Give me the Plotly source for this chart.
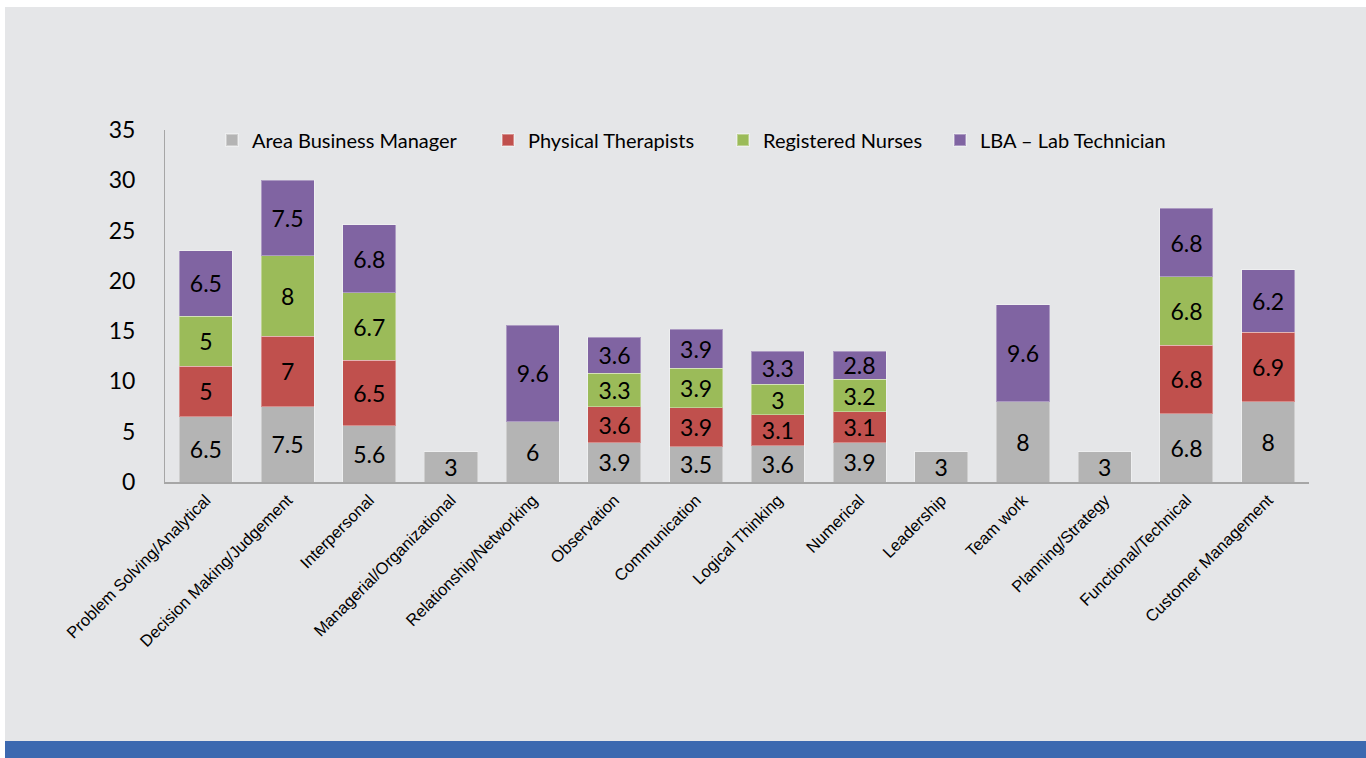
import plotly.graph_objects as go

categories = ["Problem Solving/Analytical", "Decision Making/Judgement", "Interpersonal",
              "Managerial/Organizational", "Relationship/Networking", "Observation",
              "Communication", "Logical Thinking", "Numerical", "Leadership", "Team work",
              "Planning/Strategy", "Functional/Technical", "Customer Management"]

area_business_manager = [6.5, 7.5, 5.6, 3, 6, 3.9, 3.5, 3.6, 3.9, 3, 8, 3, 6.8, 8]
physical_therapists = [5, 7, 6.5, None, None, 3.6, 3.9, 3.1, 3.1, None, None, None, 6.8, 6.9]
registered_nurses = [5, 8, 6.7, None, None, 3.3, 3.9, 3, 3.2, None, None, None, 6.8, None]
lba_lab_technician = [6.5, 7.5, 6.8, None, 9.6, 3.6, 3.9, 3.3, 2.8, None, 9.6, None, 6.8, 6.2]

series_names = ["Area Business Manager", "Physical Therapists", "Registered Nurses",
                "LBA \u2013 Lab Technician"]
series_values = [area_business_manager, physical_therapists, registered_nurses, lba_lab_technician]
series_colors = ["#B4B4B4", "#C0504D", "#9BBB59", "#8064A2"]

# pixel -> paper helpers (plot area: x 165..1309, y 130..482)
L, R, T, B = 165, 1309, 130, 482
def px(x):
    return (x - L) / (R - L)
def py(y):
    return (B - y) / (B - T)

legend_text_x = [252, 528, 763, 980]
legend_keys = ["legend", "legend2", "legend3", "legend4"]

fig = go.Figure()
for i, (name, vals, col) in enumerate(zip(series_names, series_values, series_colors)):
    fig.add_trace(go.Bar(
        x=categories, y=vals, name=name, legend=legend_keys[i],
        marker=dict(color=col, line=dict(width=1, color="rgba(255,255,255,0.35)")),
        text=[("" if v is None else f"{v:g}") for v in vals],
        textposition="inside", insidetextanchor="middle", textangle=0,
        textfont=dict(family="Lato, Carlito, sans-serif", size=23, color="#000000"),
    ))

shapes = [
    dict(type="rect", xref="paper", yref="paper", x0=px(5), x1=px(1366), y0=py(741), y1=py(7),
         fillcolor="#E5E6E8", line=dict(width=0), layer="below"),
    dict(type="rect", xref="paper", yref="paper", x0=px(5), x1=px(1366), y0=py(758), y1=py(741),
         fillcolor="#3C69B0", line=dict(width=0), layer="below"),
]

legend_style = dict(orientation="h", xanchor="left", y=py(140), yanchor="middle",
                    font=dict(family="Lato, Carlito, sans-serif", size=20, color="#000000"),
                    bgcolor="rgba(0,0,0,0)", itemsizing="constant")

layout_legends = {}
for key, tx in zip(legend_keys, legend_text_x):
    layout_legends[key] = dict(legend_style, x=px(tx - 40))

fig.update_layout(
    width=1366, height=758,
    barmode="stack", bargap=0.35,
    paper_bgcolor="#FFFFFF", plot_bgcolor="rgba(0,0,0,0)",
    margin=dict(l=L, r=1366 - R, t=T, b=758 - B, pad=0),
    shapes=shapes,
    uniformtext=dict(minsize=23, mode="show"),
    showlegend=True,
    xaxis=dict(tickangle=-45, showgrid=False, showline=True, linecolor="#A6A6A6", linewidth=2,
               ticks="", tickfont=dict(family="Liberation Sans, Arial, sans-serif", size=16.5, color="#000000"),
               fixedrange=True),
    yaxis=dict(range=[0, 35], dtick=5, showgrid=False, showline=True, linecolor="#A6A6A6", linewidth=1,
               ticks="", ticklabelstandoff=24, zeroline=False,
               tickfont=dict(family="Lato, Carlito, sans-serif", size=23, color="#000000")),
    **layout_legends,
)

fig.write_html("out.html", config={"displayModeBar": False},
               post_script="document.body.style.margin='0px';")
